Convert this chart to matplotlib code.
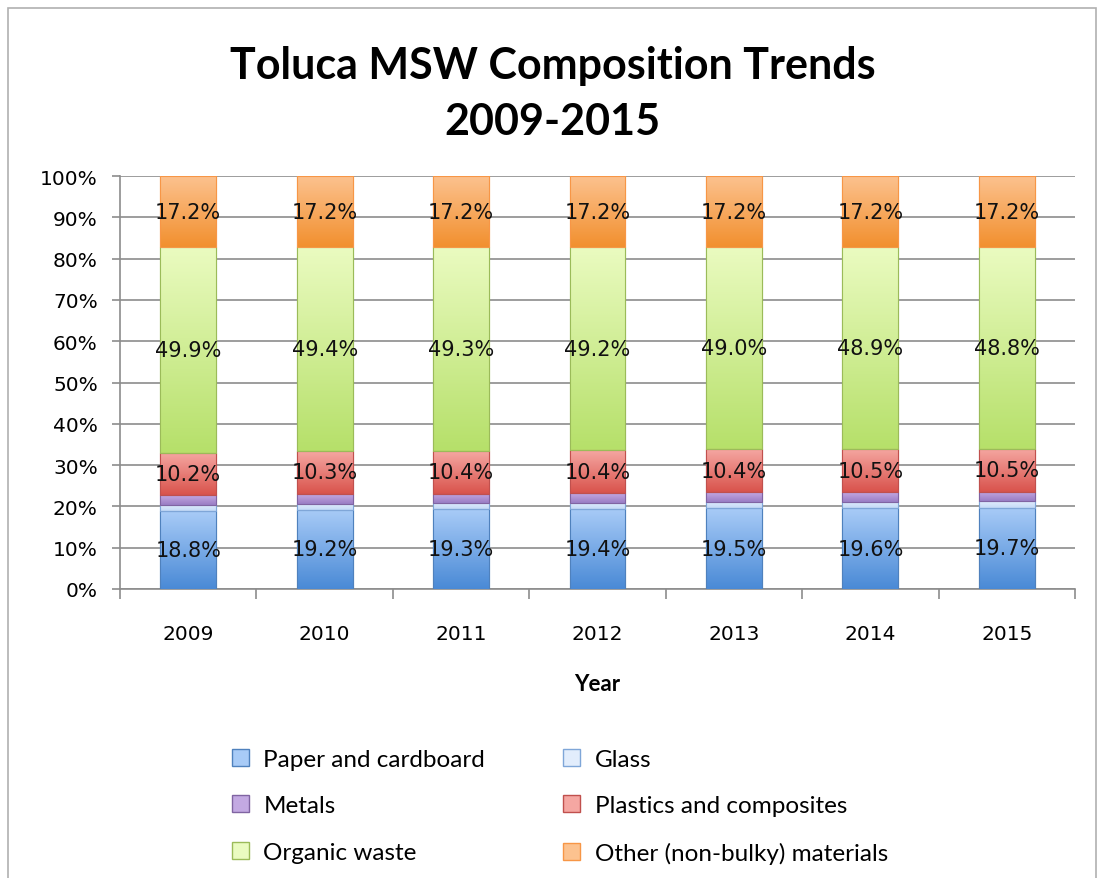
import numpy as np
import matplotlib
matplotlib.use("Agg")
import matplotlib.pyplot as plt
from matplotlib.colors import LinearSegmentedColormap
from matplotlib.patches import Rectangle, Patch

years = ["2009", "2010", "2011", "2012", "2013", "2014", "2015"]
paper = [18.8, 19.2, 19.3, 19.4, 19.5, 19.6, 19.7]
glass = [1.6, 1.5, 1.5, 1.5, 1.5, 1.5, 1.5]
metals = [2.3, 2.4, 2.3, 2.3, 2.4, 2.3, 2.3]
plastics = [10.2, 10.3, 10.4, 10.4, 10.4, 10.5, 10.5]
organic = [49.9, 49.4, 49.3, 49.2, 49.0, 48.9, 48.8]
other = [17.2, 17.2, 17.2, 17.2, 17.2, 17.2, 17.2]

series = [
    ("Paper and cardboard", paper, "#4a8ad6", "#a8cbf7", "#4f81bd", True),
    ("Glass", glass, "#c3d9f7", "#e2edfc", "#7fa6d8", False),
    ("Metals", metals, "#9b7cc4", "#c3a9e2", "#8064a2", False),
    ("Plastics and composites", plastics, "#d9534c", "#f5a7a2", "#c0504d", True),
    ("Organic waste", organic, "#b6e06a", "#eafbc0", "#9bbb59", True),
    ("Other (non-bulky) materials", other, "#f2902f", "#fcc28f", "#f79646", True),
]

plt.rcParams['font.family'] = ['DejaVu Sans']
fig = plt.figure(figsize=(11.05, 8.79), dpi=100)
ax = fig.add_axes([0.1086, 0.3288, 0.8643, 0.4698])

x = np.arange(len(years))
width = 0.41
bottom = np.zeros(len(years))
handles = []
for name, vals, dark, light, edge, labelled in series:
    vals = np.array(vals)
    bars = ax.bar(x, vals, width, bottom=bottom, color=dark, edgecolor=edge,
                  linewidth=0.8, zorder=3)
    # vertical gradient inside each segment
    cmap = LinearSegmentedColormap.from_list(name, [dark, light])
    grad = np.linspace(0, 1, 64).reshape(-1, 1)
    for b in bars:
        bx, by = b.get_x(), b.get_y()
        im = ax.imshow(grad, cmap=cmap, aspect='auto', origin='lower',
                       extent=[bx, bx + b.get_width(), by, by + b.get_height()],
                       zorder=3.5, interpolation='bilinear')
        im.set_clip_path(b)
    ax.bar(x, vals, width, bottom=bottom, fill=False, edgecolor=edge,
           linewidth=0.8, zorder=4)
    if labelled:
        for xi, b0, v in zip(x, bottom, vals):
            ax.text(xi, b0 + v / 2, f"{v:.1f}%", ha='center', va='center',
                    fontsize=15, color='#111111', zorder=6)
    handles.append(Patch(facecolor=light, edgecolor=edge, label=name))
    bottom = bottom + vals

ax.set_xlim(-0.5, len(years) - 0.5)
ax.set_ylim(0, 100)
ax.set_yticks(np.arange(0, 101, 10))
ax.set_yticklabels([f"{t}%" for t in range(0, 101, 10)], fontsize=14.5)
ax.yaxis.grid(True, color='#8c8c8c', linewidth=1.2, zorder=0)
ax.set_axisbelow(True)
ax.set_xticks(x)
ax.set_xticklabels(years, fontsize=14.5)
ax.set_xticks(np.arange(-0.5, len(years)), minor=True)
ax.tick_params(axis='x', which='major', length=0, pad=25)
ax.tick_params(axis='x', which='minor', length=7, color='#8c8c8c', width=1.2)
ax.tick_params(axis='y', length=6, color='#8c8c8c', width=1.2, pad=10)
for s in ['top', 'right']:
    ax.spines[s].set_visible(False)
for s in ['left', 'bottom']:
    ax.spines[s].set_color('#8c8c8c')
    ax.spines[s].set_linewidth(1.2)

ax.set_xlabel("Year", fontsize=16, fontweight='bold', family='Lato', labelpad=22)
fig.text(0.5, 0.893, "Toluca MSW Composition Trends\n2009-2015", ha='center',
         va='center', fontsize=31, fontweight='bold', family='Lato',
         linespacing=1.5)

order = [0, 2, 4, 1, 3, 5]
fig.legend([handles[i] for i in order], [handles[i].get_label() for i in order],
           ncol=2, loc='upper left', bbox_to_anchor=(0.19, 0.172), frameon=False,
           prop={'family': 'Lato', 'size': 17.5}, handlelength=0.7,
           handleheight=0.7, columnspacing=3.2, labelspacing=1.05,
           handletextpad=0.6)

fig.patches.append(Rectangle((0.007, -0.01), 0.985, 1.0, transform=fig.transFigure,
                             fill=False, edgecolor='#b0b0b0', linewidth=1.2))
fig.savefig("out.png", dpi=100)
